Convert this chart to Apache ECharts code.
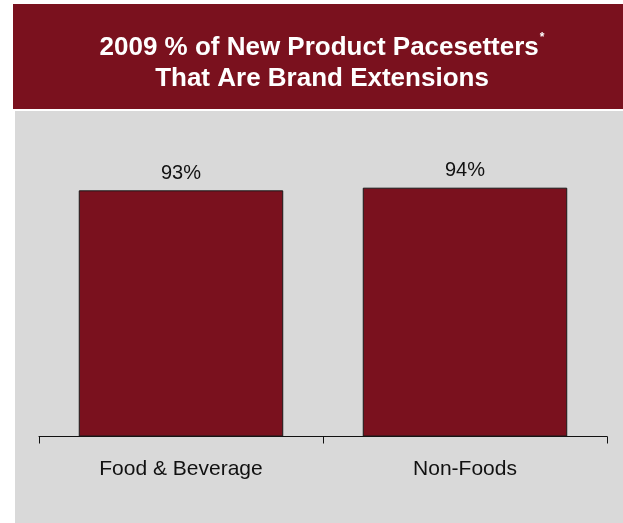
<!DOCTYPE html>
<html>
<head>
<meta charset="utf-8">
<script src="https://cdn.jsdelivr.net/npm/echarts@6/dist/echarts.min.js"></script>
<style>
  html, body { margin: 0; padding: 0; background: #ffffff; }
  #chart { width: 623px; height: 523px; }
</style>
</head>
<body>
<div id="chart"></div>
<script>
// Share of 2009 new product pacesetters that are brand extensions
const categories = ['Food & Beverage', 'Non-Foods'];
const shareValues = [93, 94];
const titleLine1 = '2009 % of New Product Pacesetters';
const titleLine2 = 'That Are Brand Extensions';

const FONT = '"Liberation Sans", Arial, Helvetica, sans-serif';
const MAROON = '#7a111e';

const chart = echarts.init(document.getElementById('chart'), null, { renderer: 'canvas' });

chart.setOption({
  animation: false,
  backgroundColor: '#ffffff',
  graphic: [
    // heading band
    { type: 'rect', z: -10, shape: { x: 13, y: 4, width: 610, height: 105 }, style: { fill: MAROON } },
    // plot panel
    { type: 'rect', z: -10, shape: { x: 15, y: 111, width: 608, height: 412 }, style: { fill: '#d9d9d9' } }
  ],
  title: {
    left: 317,
    top: 27,
    textAlign: 'center',
    text: '{h|' + titleLine1 + '}{sup|*}\n{h|' + titleLine2 + '}',
    textStyle: {
      rich: {
        h: { fontFamily: FONT, fontSize: 26, fontWeight: 'bold', color: '#ffffff', lineHeight: 31 },
        sup: { fontFamily: FONT, fontSize: 12, fontWeight: 'bold', color: '#ffffff', lineHeight: 31, verticalAlign: 'top', padding: [0, 0, 0, 1] }
      }
    }
  },
  grid: { left: 39, right: 16, top: 171.8, bottom: 86.5 },
  xAxis: {
    type: 'category',
    data: categories,
    boundaryGap: true,
    axisLine: { lineStyle: { color: '#111111', width: 1 } },
    axisTick: { show: true, length: 7, lineStyle: { color: '#111111', width: 1 } },
    axisLabel: { fontFamily: FONT, fontSize: 21, color: '#111111', margin: 22 }
  },
  yAxis: {
    type: 'value',
    min: 0,
    max: 100,
    show: false,
    splitLine: { show: false }
  },
  series: [{
    type: 'bar',
    data: shareValues,
    barWidth: '72%',
    itemStyle: { color: MAROON, borderColor: '#1a1a1a', borderWidth: 1 },
    label: {
      show: true,
      position: 'top',
      distance: 7,
      formatter: '{c}%',
      fontFamily: FONT,
      fontSize: 20,
      color: '#111111'
    }
  }]
});
</script>
</body>
</html>
